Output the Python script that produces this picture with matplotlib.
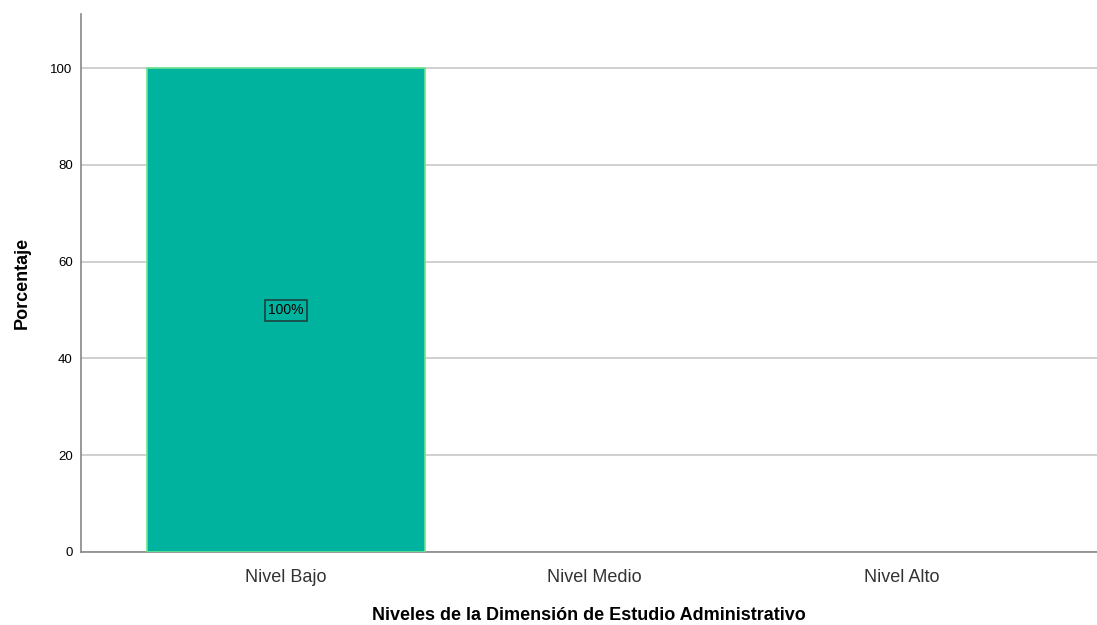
import matplotlib.pyplot as plt

plt.rcParams['font.family'] = ['Liberation Sans', 'DejaVu Sans']

categories = ['Nivel Bajo', 'Nivel Medio', 'Nivel Alto']
percentages = [100, 0, 0]
labels = ['100%', '', '']

fig = plt.figure(figsize=(10.97, 6.25), dpi=100)
ax = fig.add_axes([0.0738, 0.1168, 0.9262, 0.8608])

x = list(range(len(categories)))
edge_w = [1.2 if p > 0 else 0 for p in percentages]
ax.bar(x, percentages, width=0.9, color='#00b39e', edgecolor='#6ce58f', linewidth=edge_w, zorder=3)

for xi, p, lab in zip(x, percentages, labels):
    if lab:
        ax.text(xi, p / 2, lab, ha='center', va='center', fontsize=10, zorder=4,
                bbox=dict(boxstyle='square,pad=0.25', facecolor='#00b39e', edgecolor='#1a4d45', linewidth=1.3))

ax.set_xlim(-0.666, 2.633)
ax.set_ylim(0, 111.2)
ax.set_yticks([0, 20, 40, 60, 80, 100])
ax.set_xticks(x)
ax.set_xticklabels(categories, fontsize=13, color='#333333')
ax.tick_params(axis='y', labelsize=9.5, length=0, pad=6)
ax.tick_params(axis='x', length=0, pad=12)
ax.yaxis.grid(True, color='#c8c8c8', linewidth=1.2, zorder=0)

for s in ['top', 'right']:
    ax.spines[s].set_visible(False)
for s in ['left', 'bottom']:
    ax.spines[s].set_color('#888888')
    ax.spines[s].set_linewidth(1.2)

ax.set_ylabel('Porcentaje', fontsize=13, fontweight='bold', labelpad=14)
ax.set_xlabel('Niveles de la Dimensión de Estudio Administrativo', fontsize=13, fontweight='bold', labelpad=15)

fig.savefig('out.png', dpi=100)
